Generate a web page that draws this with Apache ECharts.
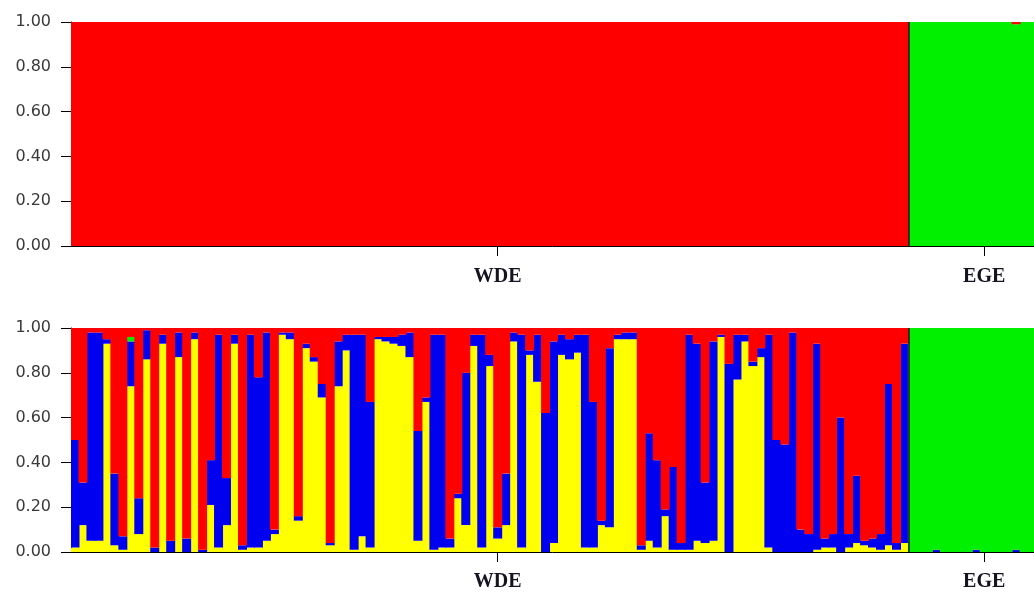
<!DOCTYPE html>
<html><head><meta charset="utf-8">
<script src="https://cdn.jsdelivr.net/npm/echarts@6/dist/echarts.min.js"></script>
<style>html,body{margin:0;padding:0;background:#fff}#c{width:1034px;height:595px}</style>
</head><body><div id="c"></div>
<script>
// ---- data ----
const populations = ['WDE', 'EGE'];
const popSizes = [105, 18];
const yTickLabels = ['0.00', '0.20', '0.40', '0.60', '0.80', '1.00'];

// Panel 1 (K = 2): membership proportions per individual
const k2Green = [
  0,0,0,0,0,0,0,0,0,0,0,0,0,0,0,0,0,0,0,0,
  0,0,0,0,0,0,0,0,0,0,0,0,0,0,0,0,0,0,0,0,
  0,0,0,0,0,0,0,0,0,0,0,0,0,0,0,0,0,0,0,0,
  0,0,0,0,0,0,0,0,0,0,0,0,0,0,0,0,0,0,0,0,
  0,0,0,0,0,0,0,0,0,0,0,0,0,0,0,0,0,0,0,0,
  0,0,0,0,0,
  1,1,1,1,1,1,1,1,1,1,1,1,1,0.99,1,1,1,1
];
const k2Red = [
  1,1,1,1,1,1,1,1,1,1,1,1,1,1,1,1,1,1,1,1,
  1,1,1,1,1,1,1,1,1,1,1,1,1,1,1,1,1,1,1,1,
  1,1,1,1,1,1,1,1,1,1,1,1,1,1,1,1,1,1,1,1,
  1,1,1,1,1,1,1,1,1,1,1,1,1,1,1,1,1,1,1,1,
  1,1,1,1,1,1,1,1,1,1,1,1,1,1,1,1,1,1,1,1,
  1,1,1,1,1,
  0,0,0,0,0,0,0,0,0,0,0,0,0,0.01,0,0,0,0
];

// Panel 2 (K = 4)
const k4Yellow = [
  .02,.12,.05,.05,.93,.03,.01,.74,.08,.86,
  0,.93,0,.87,0,.95,0,.21,.02,.12,
  .93,.01,.02,.02,.05,.08,.97,.95,.14,.91,
  .85,.69,.03,.74,.90,.01,.07,.02,.95,.94,
  .93,.92,.87,.05,.67,.01,.02,.02,.24,.12,
  .92,.02,.83,.06,.12,.94,.02,.88,.76,0,
  .04,.88,.86,.89,.02,.02,.12,.11,.95,.95,
  .95,.01,.05,.02,.16,.01,.01,.01,.05,.04,
  .05,.96,0,.77,.94,.83,.87,.02,0,0,
  0,0,0,.01,.02,.02,0,.02,.04,.03,
  .02,.01,.03,.01,.04,
  0,0,0,0,0,0,0,0,0,0,0,0,0,0,0,0,0,0
];
const k4Blue = [
  .48,.19,.93,.93,.02,.32,.06,.20,.16,.13,
  .02,.04,.05,.11,.06,.03,.01,.20,.95,.21,
  .04,.02,.95,.76,.93,.02,.01,.03,.02,.02,
  .02,.06,.01,.20,.07,.96,.90,.65,.01,.02,
  .03,.05,.11,.49,.02,.96,.95,.04,.02,.68,
  .05,.95,.05,.05,.23,.04,.95,.02,.21,.62,
  .90,.09,.09,.08,.95,.65,.02,.80,.02,.03,
  .03,.02,.48,.39,.03,.37,.03,.96,.88,.27,
  .89,.01,.84,.20,.03,.02,.04,.95,.50,.48,
  .98,.10,.08,.92,.04,.06,.60,.06,.30,.02,
  .04,.07,.72,.03,.89,
  0,0,0,.01,0,0,0,0,.01,0,0,0,0,.01,0,0,0,0
];
const k4Green = [
  0,0,0,0,0,0,0,.02,0,0,0,0,0,0,0,0,0,0,0,0,
  0,0,0,0,0,0,0,0,0,0,0,0,0,0,0,0,0,0,0,0,
  0,0,0,0,0,0,0,0,0,0,0,0,0,0,0,0,0,0,0,0,
  0,0,0,0,0,0,0,0,0,0,0,0,0,0,0,0,0,0,0,0,
  0,0,0,0,0,0,0,0,0,0,0,0,0,0,0,0,0,0,0,0,
  0,0,0,0,0,
  1,1,1,.99,1,1,1,1,.99,1,1,1,1,.99,1,1,1,1
];
const k4Red = [
  .50,.69,.02,.02,.05,.65,.93,.04,.76,.01,
  .98,.03,.95,.02,.94,.02,.99,.59,.03,.67,
  .03,.97,.03,.22,.02,.90,.02,.02,.84,.07,
  .13,.25,.96,.06,.03,.03,.03,.33,.04,.04,
  .04,.03,.02,.46,.31,.03,.03,.94,.74,.20,
  .03,.03,.12,.89,.65,.02,.03,.10,.03,.38,
  .06,.03,.05,.03,.03,.33,.86,.09,.03,.02,
  .02,.97,.47,.59,.81,.62,.96,.03,.07,.69,
  .06,.03,.16,.03,.03,.15,.09,.03,.50,.52,
  .02,.90,.92,.07,.94,.92,.40,.92,.66,.95,
  .94,.92,.25,.96,.07,
  0,0,0,0,0,0,0,0,0,0,0,0,0,0,0,0,0,0
];

// ---- chart ----
const N = popSizes.reduce((a, b) => a + b, 0);
const ids = Array.from({length: N}, (_, i) => 'ind' + (i + 1));
const popStart = [];
popSizes.reduce((acc, n) => { popStart.push(acc); return acc + n; }, 0);
const labelIdx = popSizes.map((n, i) => popStart[i] + Math.round(n / 2));
const bounds = popStart.slice(1);

const COLORS = {red: '#ff0000', green: '#00f000', blue: '#0000f0', yellow: '#ffff00'};
const gridDefs = [{top: 22, labelMargin: 21}, {top: 328, labelMargin: 20}];

const chart = echarts.init(document.getElementById('c'), null, {renderer: 'canvas'});

const grid = gridDefs.map(g => ({left: 71, top: g.top, height: 224, right: -18,
  containLabel: false, outerBoundsMode: 'none'}));
const xAxis = [];
const yAxis = [];
gridDefs.forEach((g, gi) => {
  xAxis.push({
    type: 'category', gridIndex: gi, data: ids, boundaryGap: true,
    axisLine: {show: true, lineStyle: {color: '#000', width: 1}},
    axisTick: {show: true, alignWithLabel: true, length: 10,
      interval: (i) => labelIdx.includes(i), lineStyle: {color: '#000', width: 1}},
    axisLabel: {show: true, interval: (i) => labelIdx.includes(i),
      formatter: (v, i) => { const k = labelIdx.indexOf(i); return k >= 0 ? populations[k] : ''; },
      fontFamily: 'Liberation Serif', fontWeight: 'bold', fontSize: 20, color: '#141420',
      margin: g.labelMargin},
    splitLine: {show: false}
  });
  xAxis.push({type: 'value', gridIndex: gi, min: 0, max: N, show: false});
  yAxis.push({
    type: 'value', gridIndex: gi, min: 0, max: 1, interval: 0.2,
    axisLine: {show: true, lineStyle: {color: '#000', width: 1}},
    axisTick: {show: true, length: 10, lineStyle: {color: '#000', width: 1}},
    axisLabel: {formatter: (v) => yTickLabels[Math.round(v * 5)], fontFamily: 'DejaVu Sans',
      fontSize: 16, color: '#3a3a3a', margin: 20},
    splitLine: {show: false}
  });
});

function bar(name, data, color, gi, stack) {
  return {type: 'bar', name, data, stack, xAxisIndex: gi * 2, yAxisIndex: gi,
    barWidth: 9, barGap: '0%',
    itemStyle: {color, borderWidth: 0}, silent: true};
}
function sep(gi) {
  return {type: 'line', data: [], xAxisIndex: gi * 2 + 1, yAxisIndex: gi, silent: true,
    markLine: {silent: true, symbol: ['none', 'none'], label: {show: false},
      lineStyle: {color: '#1a1a1a', width: 1.5, type: 'solid'},
      data: bounds.map(b => ({xAxis: b}))}};
}

chart.setOption({
  animation: false,
  backgroundColor: '#fff',
  grid, xAxis, yAxis,
  series: [
    bar('Cluster 1', k2Green, COLORS.green, 0, 'k2'),
    bar('Cluster 2', k2Red, COLORS.red, 0, 'k2'),
    sep(0),
    bar('Cluster 1', k4Yellow, COLORS.yellow, 1, 'k4'),
    bar('Cluster 2', k4Blue, COLORS.blue, 1, 'k4'),
    bar('Cluster 3', k4Green, COLORS.green, 1, 'k4'),
    bar('Cluster 4', k4Red, COLORS.red, 1, 'k4'),
    sep(1)
  ]
});
</script>
</body></html>
